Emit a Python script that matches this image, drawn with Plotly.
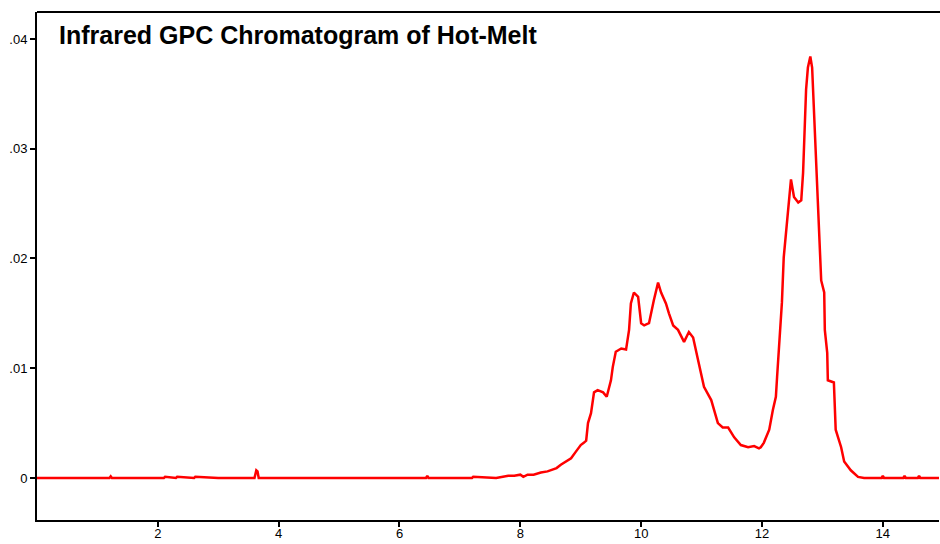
import plotly.graph_objects as go

# Retention time (min) and absorbance
retention_time = [
    0.0, 1.20, 1.22, 1.24, 2.10, 2.12, 2.30, 2.32, 2.60, 2.62, 3.00, 3.60, 3.63, 3.65, 3.67,
    5.40, 6.44, 6.46, 6.48, 7.20, 7.22, 7.60, 7.70, 7.80, 7.90, 8.00, 8.05, 8.12, 8.22, 8.34,
    8.45, 8.51, 8.60, 8.67, 8.75, 8.84, 8.92, 9.00, 9.05, 9.09, 9.12, 9.17, 9.22, 9.28,
    9.37, 9.43, 9.50, 9.53, 9.58, 9.67, 9.75, 9.80, 9.83, 9.88, 9.95, 10.00, 10.05, 10.13,
    10.21, 10.28, 10.33, 10.41, 10.46, 10.53, 10.61, 10.71, 10.79, 10.86, 10.94, 11.04,
    11.16, 11.27, 11.35, 11.44, 11.54, 11.65, 11.77, 11.87, 11.95, 11.98, 12.03, 12.12,
    12.18, 12.23, 12.25, 12.28, 12.30, 12.33, 12.36, 12.43, 12.48, 12.53, 12.60, 12.65,
    12.68, 12.70, 12.73, 12.76, 12.80, 12.83, 12.86, 12.89, 12.94, 12.98, 13.03, 13.04,
    13.08, 13.09, 13.19, 13.22, 13.31, 13.36, 13.47, 13.59, 13.69, 13.98, 14.00, 14.02,
    14.34, 14.36, 14.38, 14.58, 14.60, 14.62, 14.93,
]
absorbance = [
    0.0, 0.0, 0.00015, 0.0, 0.0, 0.0001, 0.0, 0.0001, 0.0, 0.0001, 0.0, 0.0, 0.0007, 0.0006, 0.0,
    0.0, 0.0, 0.0002, 0.0, 0.0, 0.0001, 0.0, 0.0001, 0.0002, 0.0002, 0.0003, 0.0001, 0.0003, 0.0003, 0.0005,
    0.0006, 0.0007, 0.0009, 0.0012, 0.0015, 0.0018, 0.0024, 0.0030, 0.0032, 0.0034, 0.0050, 0.0059, 0.0078, 0.0080,
    0.0078, 0.0074, 0.0089, 0.0101, 0.0115, 0.0118, 0.0117, 0.0135, 0.0159, 0.0169, 0.0165, 0.0141, 0.0139, 0.0141,
    0.0162, 0.0178, 0.0169, 0.0159, 0.0150, 0.0139, 0.0135, 0.0124, 0.0133, 0.0128, 0.0108, 0.0083,
    0.0071, 0.0050, 0.0046, 0.0046, 0.0037, 0.0030, 0.0028, 0.0029, 0.0027, 0.0028, 0.0032, 0.0044,
    0.0062, 0.0074, 0.0092, 0.0115, 0.0135, 0.0160, 0.0201, 0.0244, 0.0272, 0.0256, 0.0251, 0.0253,
    0.0278, 0.0308, 0.0354, 0.0374, 0.0384, 0.0374, 0.0338, 0.0299, 0.0232, 0.0180, 0.0169, 0.0135,
    0.0114, 0.0089, 0.0087, 0.0044, 0.0028, 0.0015, 0.0007, 0.0001, 0.0, 0.0, 0.0002, 0.0,
    0.0, 0.0002, 0.0, 0.0, 0.0002, 0.0, 0.0,
]

x_tick_values = [2, 4, 6, 8, 10, 12, 14]
x_tick_labels = ["2", "4", "6", "8", "10", "12", "14"]
y_tick_values = [0, 0.01, 0.02, 0.03, 0.04]
y_tick_labels = ["0", ".01", ".02", ".03", ".04"]
title_text = "Infrared GPC Chromatogram of Hot-Melt"

fig = go.Figure()
fig.add_trace(go.Scatter(
    x=retention_time, y=absorbance, mode="lines",
    line=dict(color="#ff0000", width=2.5), hoverinfo="x+y", showlegend=False,
))

axis_font = dict(family="Liberation Sans, Arial, sans-serif", size=13, color="#000000")

fig.update_layout(
    width=940, height=544,
    margin=dict(l=37, r=1, t=12, b=24, autoexpand=False),
    paper_bgcolor="#ffffff", plot_bgcolor="#ffffff",
    xaxis=dict(
        range=[0, 14.93], showgrid=False, zeroline=False, automargin=False,
        showline=True, linecolor="#000000", linewidth=2,
        ticks="outside", ticklen=5, tickwidth=1.5, tickcolor="#000000",
        tickvals=x_tick_values, ticktext=x_tick_labels, tickfont=axis_font,
        ticklabelstandoff=-5,
    ),
    yaxis=dict(
        range=[-0.00383, 0.04246], showgrid=False, zeroline=False, automargin=False,
        showline=True, linecolor="#000000", linewidth=2,
        ticks="outside", ticklen=5, tickwidth=1.5, tickcolor="#000000",
        tickvals=y_tick_values, ticktext=y_tick_labels, tickfont=axis_font,
    ),
    shapes=[dict(type="line", xref="paper", yref="paper", x0=0, x1=1.01, y0=1, y1=1,
                 line=dict(color="#000000", width=2))],
    annotations=[dict(
        text="<b>" + title_text + "</b>", xref="paper", yref="paper",
        x=0.022, y=0.955, xanchor="left", yanchor="middle", showarrow=False,
        font=dict(family="Liberation Sans, Arial, sans-serif", size=25, color="#000000"),
    )],
)

fig.write_html("out.html", config={"displayModeBar": False},
               post_script="document.body.style.margin='0px';")
